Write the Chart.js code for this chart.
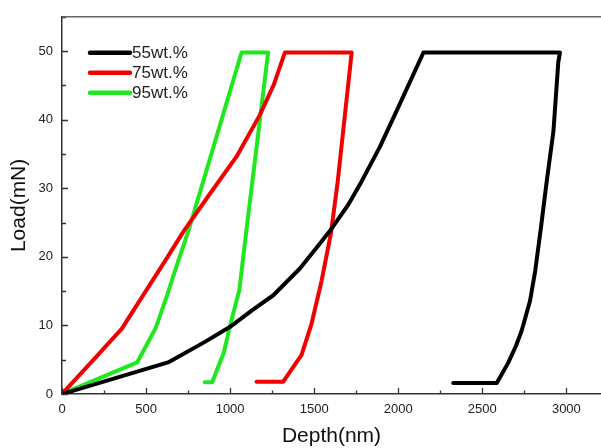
<!DOCTYPE html>
<html>
<head>
<meta charset="utf-8">
<script src="https://cdn.jsdelivr.net/npm/chart.js@4/dist/chart.umd.min.js"></script>
<style>
  html, body { margin: 0; padding: 0; background: #fff; overflow: hidden; }
  #wrap { width: 601px; height: 448px; }
</style>
</head>
<body>
<div id="wrap"><canvas id="c" width="601" height="448"></canvas></div>
<script>
// Load–depth curves (loading, hold at peak load, unloading)
const seriesNames = ['55wt.%', '75wt.%', '95wt.%'];

const depth55 = [0, 631, 850, 1000, 1130, 1257, 1415, 1520, 1594, 1700, 1782, 1890, 2000, 2150,
                 2962, 2952, 2923, 2883, 2850, 2815, 2784, 2735, 2700, 2653, 2586, 2327];
const load55  = [0, 4.6, 7.6, 9.8, 12.2, 14.4, 18.3, 21.5, 23.8, 27.5, 31, 36, 41.8, 49.8,
                 49.8, 48.4, 38.3, 31, 24.5, 18, 13.6, 9.3, 7, 4.5, 1.6, 1.6];

const depth75 = [0, 180, 355, 621, 720, 880, 1038, 1177, 1260, 1326,
                 1723, 1640, 1600, 1544, 1484, 1425, 1316, 1157];
const load75  = [0, 4.8, 9.5, 19.7, 23.6, 29.2, 34.6, 40.7, 45.1, 49.8,
                 49.8, 31, 23.5, 16.5, 10.2, 5.7, 1.8, 1.8];

const depth95 = [0, 447, 557, 621, 690, 755, 1068,
                 1226, 1100, 1055, 1000, 962, 893, 849];
const load95  = [0, 4.6, 9.6, 14.1, 19.3, 24, 49.8,
                 49.8, 24.5, 15.2, 10, 6, 1.7, 1.7];

const xTicks = [0, 500, 1000, 1500, 2000, 2500, 3000];
const yTicks = [0, 10, 20, 30, 40, 50];

const seriesColors = ['#000000', '#f00000', '#1fe81f'];

const xMinorStep = 250;
const yMinorStep = 5;

const toPoints = (xs, ys) => xs.map((x, i) => ({ x: x, y: ys[i] }));

const FONT = "'Liberation Sans', Arial, sans-serif";

// Inward ticks, top frame line and an in-plot legend
const framePlugin = {
  id: 'frame',
  afterDraw(chart) {
    const { ctx, chartArea: a, scales } = chart;
    const xs = scales.x, ys = scales.y;
    ctx.save();
    ctx.strokeStyle = '#333';
    ctx.lineWidth = 1.3;
    ctx.beginPath();
    for (let v = xs.min; v <= xs.max + 1e-6; v += xMinorStep) {
      const px = Math.round(xs.getPixelForValue(v)) + 0.5;
      const len = xTicks.includes(v) ? 6 : 3.5;
      ctx.moveTo(px, a.bottom);
      ctx.lineTo(px, a.bottom - len);
    }
    for (let v = ys.min; v <= ys.max + 1e-6; v += yMinorStep) {
      const py = Math.round(ys.getPixelForValue(v)) + 0.5;
      const len = yTicks.includes(v) ? 6 : 4;
      ctx.moveTo(a.left, py);
      ctx.lineTo(a.left + len, py);
    }
    ctx.stroke();

    // top frame
    ctx.strokeStyle = '#666';
    ctx.lineWidth = 1.5;
    ctx.beginPath();
    ctx.moveTo(a.left, a.top);
    ctx.lineTo(a.right, a.top);
    ctx.stroke();

    // legend
    const lx = a.left + 28, ly = a.top + 36, row = 20;
    chart.data.datasets.forEach((ds, i) => {
      const y = ly + i * row;
      ctx.strokeStyle = ds.borderColor;
      ctx.lineWidth = 4.5;
      ctx.lineCap = 'round';
      ctx.beginPath();
      ctx.moveTo(lx, y);
      ctx.lineTo(lx + 40, y);
      ctx.stroke();
      ctx.fillStyle = '#222';
      ctx.font = '17px ' + FONT;
      ctx.textBaseline = 'middle';
      ctx.textAlign = 'left';
      ctx.fillText(ds.label, lx + 42, y + 1);
    });
    ctx.restore();
  }
};

new Chart(document.getElementById('c'), {
  type: 'scatter',
  data: {
    datasets: [
      { label: seriesNames[0], data: toPoints(depth55, load55), borderColor: seriesColors[0] },
      { label: seriesNames[1], data: toPoints(depth75, load75), borderColor: seriesColors[1] },
      { label: seriesNames[2], data: toPoints(depth95, load95), borderColor: seriesColors[2] }
    ].map(d => Object.assign(d, {
      showLine: true, borderWidth: 4, pointRadius: 0, tension: 0,
      borderJoinStyle: 'round', borderCapStyle: 'round', backgroundColor: d.borderColor
    }))
  },
  options: {
    responsive: false,
    animation: false,
    devicePixelRatio: 1,
    layout: { padding: { top: 14, right: 0, bottom: 0, left: 0 } },
    plugins: { legend: { display: false }, tooltip: { enabled: false } },
    scales: {
      x: {
        type: 'linear', min: 0, max: 3206,
        grid: { display: false, drawTicks: false },
        border: { display: true, color: '#333', width: 1.5 },
        afterBuildTicks(scale) { scale.ticks = xTicks.map(v => ({ value: v })); },
        ticks: { padding: 8, color: '#222', autoSkip: false, maxRotation: 0,
                 font: { family: FONT, size: 13 }, callback: v => String(v) },
        title: { display: true, text: 'Depth(nm)', color: '#111',
                 font: { family: FONT, size: 21, lineHeight: 1 }, padding: { top: 0, bottom: 1 } },
        afterFit(scale) { scale.height = 54; }
      },
      y: {
        type: 'linear', min: 0, max: 55,
        grid: { display: false, drawTicks: false },
        border: { display: true, color: '#333', width: 1.5 },
        afterBuildTicks(scale) { scale.ticks = yTicks.map(v => ({ value: v })); },
        ticks: { padding: 9, color: '#222', autoSkip: false,
                 font: { family: FONT, size: 13 }, callback: v => String(v) },
        title: { display: true, text: 'Load(mN)', color: '#111',
                 font: { family: FONT, size: 21, lineHeight: 1 }, padding: { top: 9, bottom: 0 } },
        afterFit(scale) { scale.width = 62; }
      }
    }
  },
  plugins: [framePlugin]
});
</script>
</body>
</html>
